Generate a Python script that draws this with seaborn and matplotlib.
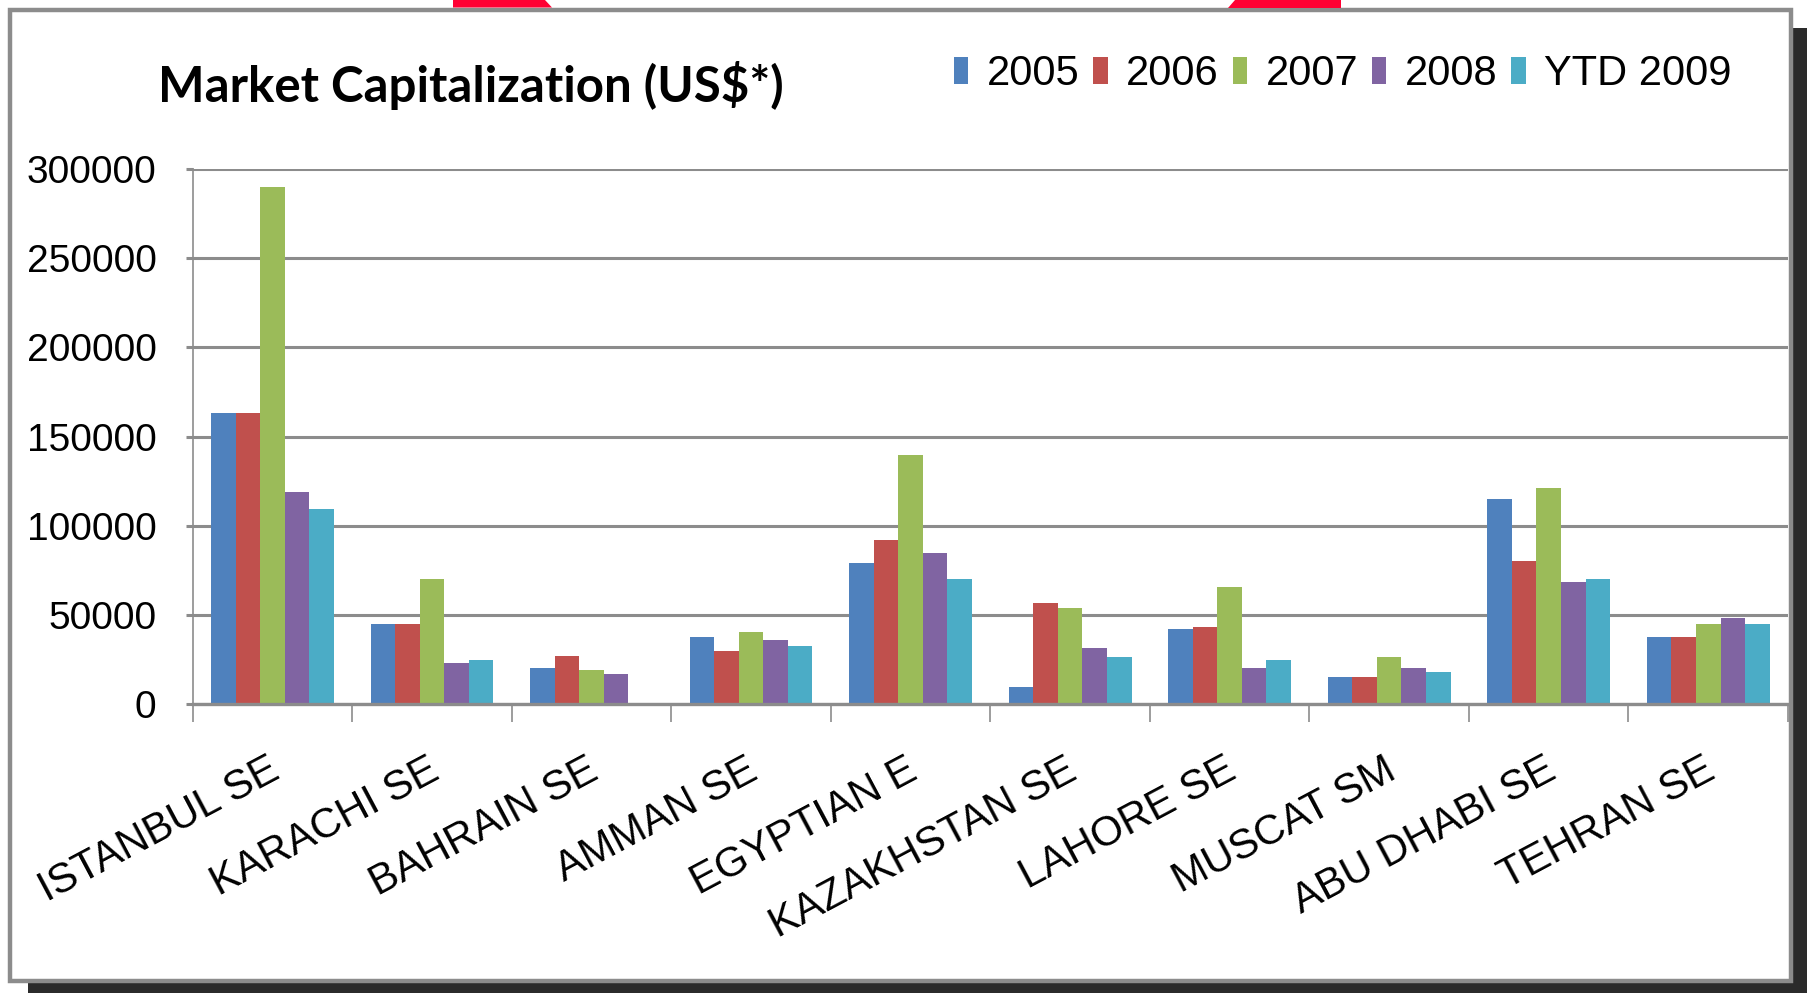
import numpy as np
import pandas as pd
import matplotlib
matplotlib.use("Agg")
import matplotlib.pyplot as plt
import matplotlib.transforms as mtransforms
from matplotlib.patches import Rectangle, Polygon
import seaborn as sns

# ---------------- data ----------------
exchanges = ["ISTANBUL SE", "KARACHI SE", "BAHRAIN SE", "AMMAN SE", "EGYPTIAN E",
             "KAZAKHSTAN SE", "LAHORE SE", "MUSCAT SM", "ABU DHABI SE", "TEHRAN SE"]
years = ["2005", "2006", "2007", "2008", "YTD 2009"]
v2005 = [163000, 45000, 20000, 37500, 79000, 9500, 42000, 15000, 115000, 37500]
v2006 = [163000, 44500, 27000, 29500, 92000, 56500, 43000, 15000, 80000, 37500]
v2007 = [290000, 70000, 19000, 40500, 139500, 54000, 65500, 26000, 121000, 45000]
v2008 = [119000, 23000, 16500, 35500, 84500, 31000, 20000, 20000, 68500, 48000]
vytd2009 = [109500, 24500, 0, 32500, 70000, 26000, 24500, 18000, 70000, 44500]
yticks = [0, 50000, 100000, 150000, 200000, 250000, 300000]
title = "Market Capitalization (US$*)"

colors = ["#4F81BD", "#C0504D", "#9BBB59", "#8064A2", "#4BACC6"]

series = [v2005, v2006, v2007, v2008, vytd2009]
rows = []
for yr, vals in zip(years, series):
    for ex, v in zip(exchanges, vals):
        rows.append({"exchange": ex, "year": yr, "value": v})
df = pd.DataFrame(rows)

# ---------------- figure ----------------
sns.set_theme(style="white")
plt.rcParams["font.family"] = ["Liberation Sans", "DejaVu Sans"]

W, H = 1807, 993
fig = plt.figure(figsize=(W / 100, H / 100), dpi=100)
fig.patch.set_facecolor("white")

def px(x, y):
    return x / W, 1 - y / H

# shadow and frame
sx, sy = px(28, 993)
fig.patches.append(Rectangle((sx, sy), 1 - sx, (1 - 28 / H) - sy, transform=fig.transFigure,
                             facecolor="#2b2b2b", edgecolor="none", zorder=-5))
fx, fy = px(9.5, 980.5)
fig.patches.append(Rectangle((fx, fy), (1790.5 - 9.5) / W, (980.5 - 9.5) / H, transform=fig.transFigure,
                             facecolor="white", edgecolor="#8c8c8c", linewidth=3.2, zorder=-4))
# red decorations at top
for pts in ([(453, 0), (545, 0), (552, 7.5), (453, 7.5)],
            [(1235, 0), (1341, 0), (1341, 7.5), (1228, 7.5)]):
    fig.patches.append(Polygon([px(x, y) for x, y in pts], closed=True, transform=fig.transFigure,
                               facecolor="#FF0033", edgecolor="none", zorder=-3))

left, right = 192.7, 1788.0
top, bottom = 169.4, 703.7
ax = fig.add_axes([left / W, 1 - bottom / H, (right - left) / W, (bottom - top) / H])
ax.patch.set_visible(False)

sns.barplot(data=df, x="exchange", y="value", hue="year", hue_order=years,
            palette=colors, saturation=1, width=0.77, gap=0, linewidth=0,
            edgecolor="none", errorbar=None, ax=ax, zorder=3)

ax.set_ylim(0, 300000)
ax.set_xlim(-0.5, len(exchanges) - 0.5)
ax.set_yticks(yticks)
ax.set_yticklabels([str(t) for t in yticks])
ax.set_xlabel("")
ax.set_ylabel("")

grid_c = "#8c8c8c"
ax.yaxis.grid(True, color=grid_c, linewidth=2.2, zorder=0)
ax.set_axisbelow(True)
for s in ["top", "right"]:
    ax.spines[s].set_visible(False)
ax.spines["left"].set_color(grid_c)
ax.spines["left"].set_linewidth(1.2)
ax.spines["bottom"].set_color(grid_c)
ax.spines["bottom"].set_linewidth(2.4)
ax.spines["bottom"].set_zorder(4)

ax.tick_params(axis="y", which="major", direction="out", length=5, width=2.2, color=grid_c,
               pad=21, labelsize=28, labelcolor="black", left=True)
# x: ticks at category boundaries (minor), labels at centres (major)
ax.set_xticks(np.arange(-0.5, len(exchanges) + 0.5, 1.0), minor=True)
ax.tick_params(axis="x", which="minor", direction="out", length=13, width=1.2, color=grid_c, bottom=True)
ax.tick_params(axis="x", which="major", length=0, pad=0, labelsize=30, labelcolor="black", bottom=False)
ax.set_xticks(range(len(exchanges)))
ax.set_xticklabels(exchanges, rotation=28, ha="right", va="center", rotation_mode="anchor")
offset = mtransforms.ScaledTranslation(4 / 100, -64 / 100, fig.dpi_scale_trans)
for lab in ax.get_xticklabels():
    lab.set_transform(lab.get_transform() + offset)

# title
tx, ty = px(158, 86)
fig.text(tx, ty, title, fontsize=35.5, fontweight="bold", family=["Lato", "DejaVu Sans"],
         ha="left", va="center", color="black")

# legend
handles, labels = ax.get_legend_handles_labels()
ax.legend(handles, labels, ncol=5, frameon=False, fontsize=30, labelcolor="black",
          loc="center left", bbox_to_anchor=px(954, 74), bbox_transform=fig.transFigure,
          handlelength=0.34, handleheight=0.62, handletextpad=0.45, columnspacing=0.33,
          borderpad=0, borderaxespad=0)

fig.savefig("out.png", dpi=100, facecolor="white")
